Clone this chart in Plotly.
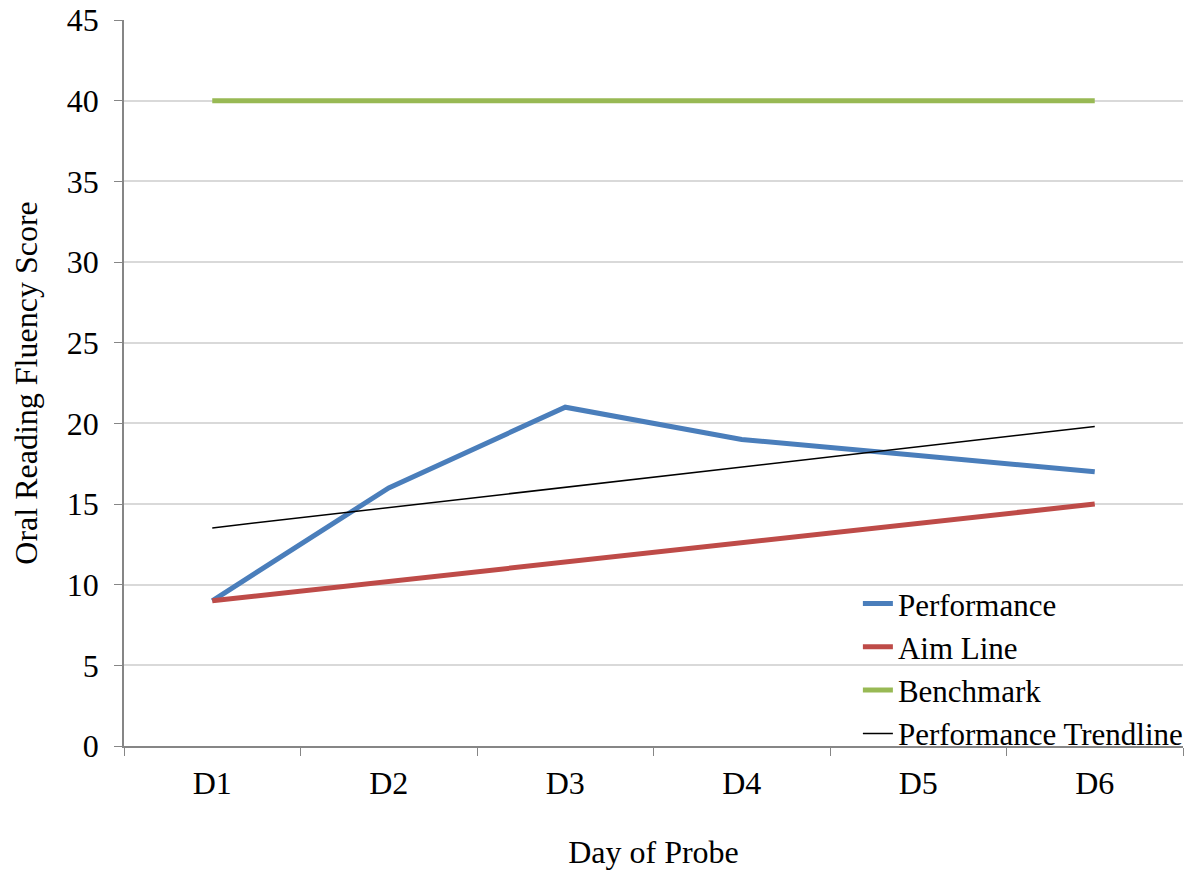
import plotly.graph_objects as go

days = ["D1", "D2", "D3", "D4", "D5", "D6"]
performance = [9, 16, 21, 19, 18, 17]
aim_line = [9, 10.2, 11.4, 12.6, 13.8, 15]
benchmark = [40, 40, 40, 40, 40, 40]
trendline = [13.52, 14.78, 16.04, 17.30, 18.55, 19.81]

FONT = "Liberation Serif, Times New Roman, serif"
FS = 32

fig = go.Figure()
fig.add_trace(go.Scatter(x=days, y=performance, mode="lines", name="Performance",
                         line=dict(color="#4A7EBB", width=5)))
fig.add_trace(go.Scatter(x=days, y=aim_line, mode="lines", name="Aim Line",
                         line=dict(color="#BE4B48", width=5)))
fig.add_trace(go.Scatter(x=days, y=benchmark, mode="lines", name="Benchmark",
                         line=dict(color="#98B954", width=5)))
fig.add_trace(go.Scatter(x=days, y=trendline, mode="lines", name="Performance Trendline",
                         line=dict(color="#000000", width=1.5)))

fig.update_layout(
    width=1203, height=875,
    margin=dict(l=124, r=20, t=20, b=129, autoexpand=False),
    paper_bgcolor="white", plot_bgcolor="white",
    font=dict(family=FONT, size=FS, color="black"),
    showlegend=True,
    legend=dict(x=0.693, y=0.233, xanchor="left", yanchor="top",
                bgcolor="rgba(0,0,0,0)", font=dict(family=FONT, size=31),
                tracegroupgap=0, itemwidth=30),
    xaxis=dict(
        type="category", range=[-0.5, 5.5], automargin=False,
        showline=True, linecolor="#868686", linewidth=1.5,
        ticks="outside", ticklen=8, tickcolor="#868686",
        tickson="boundaries", showgrid=False, zeroline=False,
        tickfont=dict(family=FONT, size=FS), ticklabelstandoff=8,
        title=dict(text="Day of Probe", font=dict(family=FONT, size=FS), standoff=40),
    ),
    yaxis=dict(
        range=[0, 45], dtick=5, automargin=False,
        showline=True, linecolor="#868686", linewidth=1.5,
        ticks="outside", ticklen=8, tickcolor="#868686",
        showgrid=True, gridcolor="#D9D9D9", gridwidth=1.5, zeroline=False,
        tickfont=dict(family=FONT, size=FS), ticklabelstandoff=9,
        title=dict(text="Oral Reading Fluency Score", font=dict(family=FONT, size=FS), standoff=20),
    ),
)

fig.write_html("out.html")
